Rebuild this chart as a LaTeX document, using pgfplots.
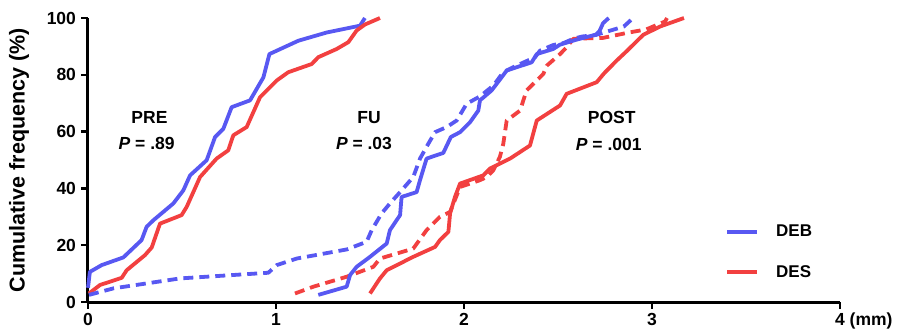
\documentclass[border=0pt]{standalone}
\usepackage{pgfplots}
\pgfplotsset{compat=1.18}
\usepackage{fontspec}
\setmainfont{Liberation Sans}
\definecolor{cblue}{RGB}{88,88,242}
\definecolor{cred}{RGB}{242,64,64}
\begin{document}
\begin{tikzpicture}
\begin{axis}[
  at={(0pt,0pt)}, anchor=south west,
  scale only axis, width=752pt, height=284pt,
  xmin=0, xmax=4, ymin=0, ymax=100,
  axis x line*=bottom, axis y line*=left,
  axis line style={line width=3pt, -},
  every tick/.style={line width=2.5pt, black},
  tick align=outside, major tick length=6.5pt,
  xtick={0,1,2,3,4}, ytick={0,20,40,60,80,100},
  xticklabels={0,1,2,3,4\rlap{ (mm)}},
  /pgf/number format/assume math mode=true,
  tick label style={font=\bfseries\fontsize{17.5}{20}\selectfont},
  yticklabel style={xshift=-2pt},
  xticklabel style={yshift=-1pt},
  ylabel={Cumulative frequency (\%)},
  ylabel style={font=\bfseries\fontsize{21.5}{24}\selectfont, at={(axis description cs:-0.0918,0.5)}, rotate=0, anchor=center},
  clip=false,
  legend style={draw=none, fill=none, at={(axis cs:3.388,17.6)}, anchor=west,
    font=\bfseries\fontsize{17}{20}\selectfont, inner sep=0pt,
    nodes={inner sep=0pt}, row sep=27pt,
    /tikz/every odd column/.append style={column sep=17pt}},
  legend cell align=left,
  legend image code/.code={\draw[#1, line width=4pt, solid] (0pt,0pt) -- (30pt,0pt);},
  every axis plot/.append style={line width=3.8pt, line join=round},
]
% PRE
\addplot[cblue] coordinates {(0,5)(0.01,10.6)(0.073,13.0)(0.188,15.7)(0.285,21.8)(0.312,26.5)(0.348,28.8)(0.454,34.7)(0.507,39.3)(0.543,44.6)(0.631,49.9)(0.676,58.1)(0.72,61.0)(0.764,68.6)(0.862,71.0)(0.933,79.1)(0.965,87.3)(1.119,92.0)(1.27,94.9)(1.447,97.3)(1.473,100)};
\addlegendentry{DEB}
\addplot[cred] coordinates {(0.005,3.0)(0.064,6.0)(0.179,8.5)(0.206,11.2)(0.303,16.5)(0.339,19.2)(0.383,27.6)(0.498,30.6)(0.525,33.5)(0.596,44.0)(0.684,50.5)(0.746,53.4)(0.773,58.7)(0.844,61.6)(0.915,72.1)(1.004,78.0)(1.065,80.9)(1.19,83.8)(1.225,86.2)(1.323,89.1)(1.385,91.5)(1.429,95.6)(1.473,97.7)(1.553,100)};
\addlegendentry{DES}
% dashed
\addplot[cblue, dash pattern=on 10pt off 6pt, forget plot] coordinates {(0.005,2.5)(0.135,4.8)(0.489,8.3)(0.959,10.3)(1.004,13.0)(1.11,15.3)(1.376,18.5)(1.482,21.2)(1.509,25.3)(1.562,31.2)(1.606,34.7)(1.66,38.7)(1.73,44.0)(1.766,50.5)(1.81,55.7)(1.846,59.8)(1.908,61.6)(1.961,63.9)(2.014,69.8)(2.085,72.4)(2.156,76.2)(2.209,80.9)(2.262,82.7)(2.378,86.2)(2.404,88.5)(2.475,90.5)(2.53,91.2)(2.582,92.7)(2.63,93.5)(2.7,94)(2.8,96)(2.85,97)(2.9,100)};
\addplot[cred, dash pattern=on 10pt off 6pt, forget plot] coordinates {(1.101,3.0)(1.199,5.4)(1.376,8.9)(1.518,12.4)(1.553,15.3)(1.73,18.8)(1.801,25.3)(1.872,30.0)(1.926,31.7)(1.979,40.5)(2.085,42.9)(2.121,44.0)(2.156,46.4)(2.191,51.1)(2.209,55.7)(2.227,63.9)(2.298,67.4)(2.333,74.5)(2.422,80.3)(2.44,83.2)(2.511,87.3)(2.546,89.7)(2.582,92.7)(2.74,93)(2.87,94.8)(2.97,96)(3.07,98.8)(3.08,100)};
% solid right
\addplot[cblue, forget plot] coordinates {(1.225,2.5)(1.376,5.4)(1.394,9.5)(1.429,12.4)(1.5,15.9)(1.589,20.6)(1.606,25.3)(1.66,30.6)(1.668,37.0)(1.748,38.7)(1.766,42.9)(1.801,50.5)(1.89,52.5)(1.93,58.1)(1.979,59.8)(2.032,63.3)(2.076,67.4)(2.085,71.0)(2.147,74.5)(2.2,79.1)(2.227,81.5)(2.36,84.4)(2.387,87.3)(2.475,89.1)(2.51,90.6)(2.6,92.4)(2.7,94.1)(2.72,95.3)(2.74,98.2)(2.77,100)};
\addplot[cred, forget plot] coordinates {(1.5,3.0)(1.553,8.3)(1.589,11.2)(1.73,15.9)(1.846,19.4)(1.872,21.8)(1.917,24.7)(1.926,31.2)(1.952,37.0)(1.979,41.7)(2.103,44.6)(2.138,47.0)(2.245,50.5)(2.351,55.1)(2.387,63.9)(2.511,69.2)(2.546,73.3)(2.706,77.4)(2.745,80.5)(2.812,85.0)(2.865,88.3)(2.954,94.1)(3.043,97.0)(3.17,100)};
% annotations
\node[font=\bfseries\fontsize{17.5}{20}\selectfont] at (axis cs:0.327,65.1) {PRE};
\node[font=\bfseries\fontsize{17.5}{20}\selectfont] at (axis cs:0.312,55.7) {\textit{P} = .89};
\node[font=\bfseries\fontsize{17.5}{20}\selectfont] at (axis cs:1.495,65.1) {FU};
\node[font=\bfseries\fontsize{17.5}{20}\selectfont] at (axis cs:1.468,55.7) {\textit{P} = .03};
\node[font=\bfseries\fontsize{17.5}{20}\selectfont] at (axis cs:2.786,65.1) {POST};
\node[font=\bfseries\fontsize{17.5}{20}\selectfont] at (axis cs:2.77,55.5) {\textit{P} = .001};
\end{axis}
\pgfresetboundingbox
\path[use as bounding box] (-88pt,-31pt) rectangle (814pt,302pt);
\end{tikzpicture}
\end{document}
